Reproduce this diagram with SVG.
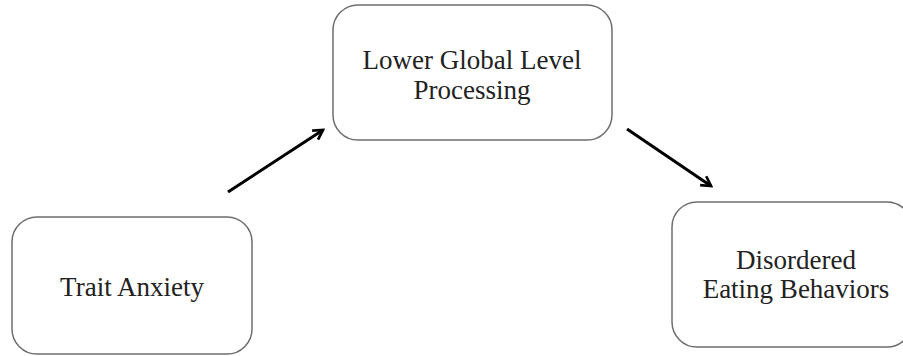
<svg xmlns="http://www.w3.org/2000/svg" width="903" height="356" viewBox="0 0 903 356">
<style>
.box{fill:#fff;stroke:#6e6e6e;stroke-width:1.5}
.t{font-family:"Liberation Serif","Times New Roman",serif;font-size:27px;fill:#222;text-anchor:middle}
.c{stroke:#000;stroke-width:3;fill:none;marker-end:url(#ah)}
</style>
<defs>
<marker id="ah" viewBox="0 0 10 10" refX="8" refY="5" markerWidth="4.5" markerHeight="4.5" orient="auto" markerUnits="strokeWidth">
<path d="M1,1 L8,5 L1,9" fill="none" stroke="#000" stroke-width="2"/>
</marker>
</defs>
<rect width="903" height="356" fill="#fff"/>
<g id="n1"><rect class="box" x="12" y="217" width="240" height="137" rx="25"/><text class="t" x="132" y="296">Trait Anxiety</text></g>
<g id="n2"><rect class="box" x="333" y="5" width="279" height="135" rx="25"/><text class="t" x="472" y="69">Lower Global Level</text><text class="t" x="472" y="99">Processing</text></g>
<g id="n3"><rect class="box" x="672" y="202" width="240" height="145" rx="25"/><text class="t" x="796" y="269">Disordered</text><text class="t" x="796" y="298">Eating Behaviors</text></g>
<g id="connectors">
<line class="c" x1="228" y1="192" x2="323" y2="130"/>
<line class="c" x1="627" y1="129" x2="711" y2="186"/>
</g>
</svg>
